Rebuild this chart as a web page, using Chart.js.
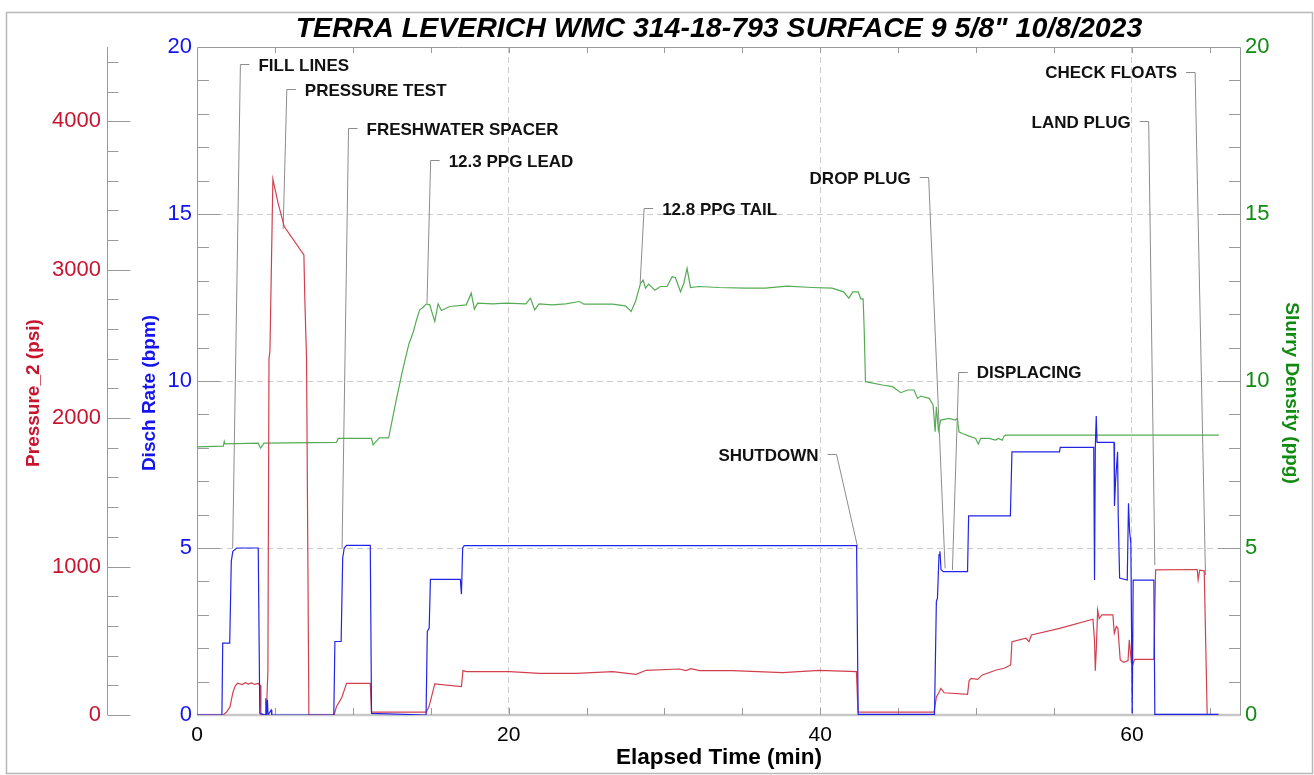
<!DOCTYPE html>
<html>
<head>
<meta charset="utf-8">
<script src="https://cdn.jsdelivr.net/npm/chart.js@4.4.1/dist/chart.umd.min.js"></script>
<style>
  html, body { margin: 0; padding: 0; background: #fff; }
  #wrap { width: 1314px; height: 775px; }
</style>
</head>
<body>
<div id="wrap"><canvas id="jobChart" width="1314" height="775"></canvas></div>
<script>
// ---- values (elapsed time in minutes) ----
var rateTime = [0, 1.60, 1.65, 2.10, 2.20, 2.30, 2.55, 3.93, 4.03, 4.38, 4.42, 4.46, 4.52, 4.56, 4.76, 4.80,
    8.78, 8.85, 9.25, 9.35, 9.45, 9.60, 11.12, 11.20, 14.70, 14.78, 14.90, 14.98, 16.90, 16.97, 17.05, 17.15,
    42.33, 42.43, 47.33, 47.45, 47.52, 47.62, 47.68, 47.75, 47.90, 49.45, 49.52, 52.20, 52.30, 55.35, 55.40,
    57.55, 57.60, 57.65, 57.71, 57.76, 58.85, 58.88, 58.95, 59.08, 59.12, 59.21, 59.70, 59.78, 59.85, 59.93,
    60.02, 60.08, 61.41, 61.47, 65.55];
var rateBpm = [0, 0, 2.15, 2.15, 4.6, 4.9, 5.0, 5.0, 0.05, 0, 0.5, 0, 0.45, 0, 0.15, 0,
    0, 2.2, 2.2, 4.7, 5.0, 5.08, 5.08, 0.05, 0, 2.5, 2.6, 4.06, 4.06, 3.62, 5.0, 5.07,
    5.07, 0.02, 0.02, 3.4, 3.5, 4.8, 4.9, 4.35, 4.29, 4.29, 5.96, 5.96, 7.88, 7.88, 8.01,
    8.01, 4.04, 8.0, 8.95, 8.16, 8.16, 6.26, 7.0, 7.88, 6.0, 4.1, 4.04, 6.34, 5.5, 5.15,
    0.05, 4.04, 4.04, 0.02, 0.02];

var pressureTime = [0, 1.68, 1.90, 2.12, 2.30, 2.45, 2.60, 2.90, 3.10, 3.30, 3.50, 3.70, 3.93, 4.05, 4.10,
    4.45, 4.55, 4.62, 4.68, 4.87, 5.20, 5.60, 6.86, 6.92, 7.03, 7.18, 8.80, 8.95, 9.30, 9.60, 11.12, 11.20,
    14.72, 14.90, 15.26, 16.97, 17.07, 17.29, 20.06, 22.0, 24.34, 26.68, 28.18, 28.82, 30.95, 31.38, 31.70,
    32.24, 34.37, 37.58, 39.93, 42.32, 42.42, 47.30, 47.45, 47.60, 47.74, 47.95, 49.45, 49.55, 49.68, 50.10,
    50.40, 51.30, 51.80, 52.22, 52.30, 53.20, 53.40, 53.55, 55.36, 57.50, 57.60, 57.65, 57.72, 57.80, 57.90,
    58.07, 58.78, 58.87, 59.00, 59.10, 59.25, 59.47, 59.75, 59.83, 59.97, 60.05, 60.17, 61.41, 61.52, 64.19,
    64.25, 64.35, 64.64, 64.83, 65.55];
var pressurePsi = [0, 0, 20, 56, 150, 195, 215, 205, 218, 208, 216, 206, 212, 200, 0,
    0, 300, 2400, 2450, 3610, 3450, 3290, 3100, 2800, 2400, 0, 0, 56, 120, 213, 213, 20,
    20, 60, 209, 191, 299, 292, 292, 281, 281, 292, 274, 301, 310, 299, 312,
    299, 299, 285, 301, 292, 20, 20, 120, 150, 180, 150, 139, 230, 247, 240,
    270, 303, 315, 337, 494, 517, 494, 539, 584, 645, 500, 299, 460, 708, 650,
    674, 674, 551, 596, 584, 371, 355, 366, 506, 350, 337, 375, 375, 978, 980,
    911, 975, 971, 0, 0];

var densityTime = [0, 1.69, 1.75, 1.80, 3.93, 4.08, 4.30, 8.95, 9.06, 11.20, 11.30, 11.71, 12.30, 12.78, 13.20,
    13.60, 13.87, 14.10, 14.29, 14.50, 14.72, 14.94, 15.05, 15.26, 15.47, 15.68, 16.22, 17.28, 17.60, 17.80,
    18.01, 18.97, 19.83, 21.10, 21.40, 21.67, 21.95, 22.80, 23.66, 24.55, 24.83, 26.65, 27.50, 27.86, 28.14,
    28.46, 28.63, 28.78, 28.99, 29.38, 29.74, 30.17, 30.49, 30.70, 31.03, 31.24, 31.45, 31.67, 32.20, 33.50,
    35.20, 36.48, 37.87, 39.47, 40.75, 41.50, 41.83, 42.09, 42.43, 42.60, 42.75, 42.82, 42.90, 43.99, 44.63,
    45.17, 45.60, 46.02, 46.24, 46.45, 46.99, 47.24, 47.37, 47.45, 47.58, 47.73, 48.26, 48.65, 48.80, 48.90,
    49.12, 49.55, 49.97, 50.14, 50.29, 50.83, 51.25, 51.42, 51.68, 51.79, 51.90, 65.58];
var densityPpg = [8.03, 8.05, 8.19, 8.12, 8.14, 7.99, 8.14, 8.16, 8.28, 8.28, 8.09, 8.30, 8.30, 9.42, 10.33,
    11.11, 11.45, 11.85, 12.13, 12.20, 12.31, 12.28, 12.10, 11.78, 12.31, 12.11, 12.23, 12.28, 12.63, 12.15,
    12.33, 12.31, 12.33, 12.31, 12.48, 12.13, 12.31, 12.28, 12.31, 12.38, 12.30, 12.30, 12.25, 12.08, 12.38,
    12.92, 13.02, 12.78, 12.90, 12.72, 12.83, 12.83, 13.12, 13.10, 12.67, 12.92, 13.37, 12.80, 12.83, 12.80,
    12.78, 12.78, 12.84, 12.80, 12.78, 12.67, 12.48, 12.67, 12.67, 12.46, 12.46, 11.50, 9.98, 9.88, 9.83,
    9.65, 9.73, 9.73, 9.48, 9.55, 9.48, 9.28, 8.48, 9.23, 8.53, 8.83, 8.88, 8.83, 8.88, 8.48,
    8.43, 8.35, 8.28, 8.11, 8.28, 8.28, 8.23, 8.28, 8.23, 8.35, 8.38, 8.38];

// tick labels
var timeTicks = [0, 20, 40, 60];
var rateTicks = [0, 5, 10, 15, 20];
var pressureTicks = [0, 1000, 2000, 3000, 4000];
var densityTicks = [0, 5, 10, 15, 20];

// event callouts: text anchor (time, rate units) and the point the leader goes to
var eventNames = ['FILL LINES', 'PRESSURE TEST', 'FRESHWATER SPACER', '12.3 PPG LEAD', '12.8 PPG TAIL',
    'SHUTDOWN', 'DROP PLUG', 'DISPLACING', 'LAND PLUG', 'CHECK FLOATS'];
var eventTextTime = [3.94, 6.92, 10.88, 16.15, 29.85, 39.89, 45.80, 50.04, 59.92, 62.90];
var eventTextLevel = [19.46, 18.71, 17.54, 16.59, 15.14, 7.78, 16.07, 10.25, 17.74, 19.23];
var eventSide = ['right', 'right', 'right', 'right', 'right', 'left', 'left', 'right', 'left', 'left'];
var eventTime = [2.29, 5.53, 9.31, 14.76, 28.44, 42.39, 48.01, 48.48, 61.47, 64.72];
var eventLevel = [5.0, 14.55, 5.0, 12.34, 12.93, 5.04, 4.39, 4.34, 4.49, 4.19];

var FONT = '"Liberation Sans", Arial, sans-serif';
var RED = '#c8142f', BLUE = '#1414f0', GREEN = '#118a11';

function points(ts, vs) {
    return ts.map(function (t, i) { return { x: t, y: vs[i] }; });
}
function fixedTicks(values) {
    return function (scale) { scale.ticks = values.map(function (v) { return { value: v }; }); };
}
function plainLabel(v) { return String(v); }
function innerGrid(max) {
    return function (c) {
        var v = c.tick ? c.tick.value : 0;
        return (v === 0 || v === max) ? 'rgba(0,0,0,0)' : '#cdcdcd';
    };
}

// rotated axis titles, drawn a little below the plot centre like the original
var axisTitles = [
    { scale: 'yPressure', text: 'Pressure_2 (psi)', color: RED, dx: 34, rot: -Math.PI / 2 },
    { scale: 'yRate', text: 'Disch Rate (bpm)', color: BLUE, dx: 43, rot: -Math.PI / 2 },
    { scale: 'yDensity', text: 'Slurry Density (ppg)', color: GREEN, dx: 50, rot: Math.PI / 2 }
];

var framePlugin = {
    id: 'frame',
    beforeDraw: function (chart) {
        var ctx = chart.ctx;
        ctx.save();
        ctx.strokeStyle = '#b8b8b8';
        ctx.lineWidth = 1.5;
        ctx.strokeRect(6.5, 12.5, 1306, 761);
        ctx.restore();
    },
    beforeDatasetsDraw: function (chart) {
        var ctx = chart.ctx, a = chart.chartArea;
        var x = chart.scales.x, yr = chart.scales.yRate, yp = chart.scales.yPressure;
        ctx.save();
        // bottom axis
        ctx.strokeStyle = '#c8c8c8';
        ctx.lineWidth = 2.5;
        ctx.beginPath();
        ctx.moveTo(a.left, a.bottom);
        ctx.lineTo(a.right, a.bottom);
        ctx.stroke();

        ctx.strokeStyle = '#9a9a9a';
        ctx.lineWidth = 1;
        ctx.beginPath();
        ctx.moveTo(a.left + 0.5, a.bottom);
        ctx.lineTo(a.left + 0.5, a.top + 0.5);
        ctx.lineTo(a.right - 0.5, a.top + 0.5);
        ctx.lineTo(a.right - 0.5, a.bottom);
        // minor/major ticks inside the plot
        for (var t = 5; t < x.max; t += 5) {
            var px = Math.round(x.getPixelForValue(t)) + 0.5;
            ctx.moveTo(px, a.top); ctx.lineTo(px, a.top + 6);
            ctx.moveTo(px, a.bottom); ctx.lineTo(px, a.bottom - 7);
        }
        for (var v = 1; v < 20; v++) {
            var py = Math.round(yr.getPixelForValue(v)) + 0.5;
            var len = v % 5 === 0 ? 23 : 12;
            ctx.moveTo(a.left, py); ctx.lineTo(a.left + len, py);
            ctx.moveTo(a.right, py); ctx.lineTo(a.right - len, py);
        }
        // pressure axis
        var ax = Math.round(yp.right) + 0.5;
        ctx.moveTo(ax, yp.getPixelForValue(yp.max));
        ctx.lineTo(ax, yp.getPixelForValue(0));
        for (var p = 0; p <= yp.max; p += 200) {
            var pp = Math.round(yp.getPixelForValue(p)) + 0.5;
            ctx.moveTo(ax, pp); ctx.lineTo(ax + (p % 1000 === 0 ? 23 : 11), pp);
        }
        ctx.stroke();

        // event leaders
        ctx.strokeStyle = '#8c8c8c';
        ctx.beginPath();
        for (var i = 0; i < eventNames.length; i++) {
            var tx = x.getPixelForValue(eventTextTime[i]);
            var ty = Math.round(yr.getPixelForValue(eventTextLevel[i])) - 0.5;
            var dir = eventSide[i] === 'right' ? -1 : 1;
            ctx.moveTo(tx + dir * 9, ty);
            ctx.lineTo(tx + dir * 18, ty);
            ctx.lineTo(x.getPixelForValue(eventTime[i]), yr.getPixelForValue(eventLevel[i]));
        }
        ctx.stroke();
        ctx.restore();
    },
    afterDatasetsDraw: function (chart) {
        var ctx = chart.ctx, a = chart.chartArea;
        var x = chart.scales.x, yr = chart.scales.yRate;
        ctx.save();
        ctx.fillStyle = '#111';
        ctx.font = 'bold 17px ' + FONT;
        ctx.textBaseline = 'middle';
        for (var i = 0; i < eventNames.length; i++) {
            ctx.textAlign = eventSide[i] === 'right' ? 'left' : 'right';
            ctx.fillText(eventNames[i], x.getPixelForValue(eventTextTime[i]), yr.getPixelForValue(eventTextLevel[i]) + 1);
        }
        // axis titles
        ctx.font = 'bold 19px ' + FONT;
        ctx.textAlign = 'center';
        var midY = (a.top + a.bottom) / 2 + 12;
        axisTitles.forEach(function (at) {
            var s = chart.scales[at.scale];
            ctx.save();
            ctx.translate(s.left + at.dx, midY);
            ctx.rotate(at.rot);
            ctx.fillStyle = at.color;
            ctx.fillText(at.text, 0, 0);
            ctx.restore();
        });
        ctx.restore();
    }
};

var jobChart = new Chart(document.getElementById('jobChart'), {
    type: 'line',
    data: {
        datasets: [{
                label: 'Disch Rate',
                data: points(rateTime, rateBpm),
                yAxisID: 'yRate',
                borderColor: '#2424e6',
                borderWidth: 1.2
            },
            {
                label: 'Pressure_2',
                data: points(pressureTime, pressurePsi),
                yAxisID: 'yPressure',
                borderColor: '#d2404f',
                borderWidth: 1.2
            },
            {
                label: 'Slurry Density',
                data: points(densityTime, densityPpg),
                yAxisID: 'yDensity',
                borderColor: '#55ac55',
                borderWidth: 1.2
            }
        ]
    },
    options: {
        responsive: false,
        animation: false,
        events: [],
        elements: { point: { radius: 0 }, line: { tension: 0 } },
        layout: { padding: 0 },
        plugins: {
            legend: { display: false },
            tooltip: { enabled: false },
            title: {
                display: true,
                fullSize: false,
                text: 'TERRA LEVERICH WMC 314-18-793 SURFACE 9 5/8" 10/8/2023',
                color: '#000',
                font: { family: FONT, size: 28.5, weight: 'bold', style: 'italic' },
                padding: { top: 12, bottom: 0.8 }
            }
        },
        scales: {
            x: {
                type: 'linear',
                position: 'bottom',
                min: 0,
                max: 67,
                afterBuildTicks: fixedTicks(timeTicks),
                afterFit: function (s) { s.height = 60; },
                ticks: { color: '#000', font: { family: FONT, size: 21 }, padding: 8, maxRotation: 0, autoSkip: false,
                    callback: plainLabel },
                grid: { color: innerGrid(67), drawTicks: false },
                border: { display: false, dash: [6, 4] },
                title: { display: true, text: 'Elapsed Time (min)', color: '#000',
                    font: { family: FONT, size: 22.5, weight: 'bold' }, padding: { top: 0, bottom: 4 } }
            },
            yRate: {
                type: 'linear',
                position: 'left',
                weight: 0,
                min: 0,
                max: 20,
                afterBuildTicks: fixedTicks(rateTicks),
                afterFit: function (s) { s.width = 90; },
                ticks: { color: BLUE, font: { family: FONT, size: 22 }, padding: 5, callback: plainLabel },
                grid: { color: innerGrid(20), drawTicks: false },
                border: { display: false, dash: [6, 4] }
            },
            yPressure: {
                type: 'linear',
                position: 'left',
                weight: 1,
                min: 0,
                max: 4500,
                afterBuildTicks: fixedTicks(pressureTicks),
                afterFit: function (s) { s.width = 107; },
                ticks: { color: RED, font: { family: FONT, size: 22 }, padding: 6, callback: plainLabel },
                grid: { drawOnChartArea: false, drawTicks: false },
                border: { display: false }
            },
            yDensity: {
                type: 'linear',
                position: 'right',
                min: 0,
                max: 20,
                afterBuildTicks: fixedTicks(densityTicks),
                afterFit: function (s) { s.width = 73; },
                ticks: { color: GREEN, font: { family: FONT, size: 22 }, padding: 4, callback: plainLabel },
                grid: { drawOnChartArea: false, drawTicks: false },
                border: { display: false }
            }
        }
    },
    plugins: [framePlugin]
});
</script>
</body>
</html>
